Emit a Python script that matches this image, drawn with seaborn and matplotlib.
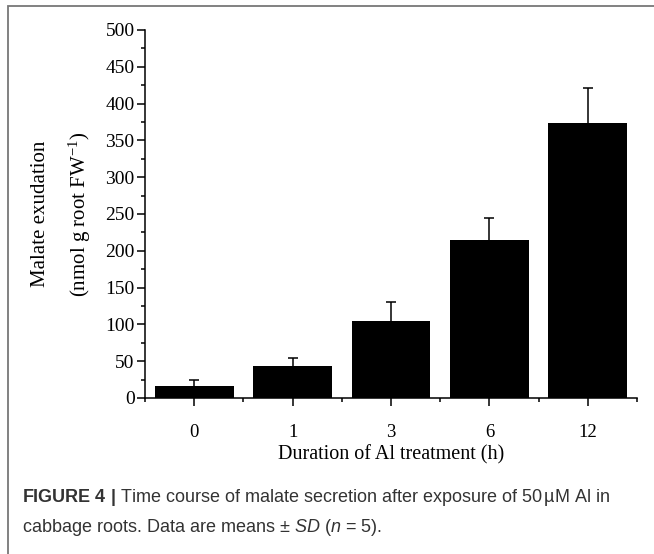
import numpy as np
import pandas as pd
import matplotlib
matplotlib.use("Agg")
import matplotlib.pyplot as plt
import seaborn as sns
from matplotlib.patches import Rectangle

# data
durations = ["0", "1", "3", "6", "12"]
malate = [16, 44, 105, 215, 374]
sd = [8, 11, 25, 29, 47]

sns.set_theme(style="ticks")
plt.rcParams['font.family'] = ['Liberation Serif', 'DejaVu Serif']
plt.rcParams['mathtext.fontset'] = 'custom'
plt.rcParams['mathtext.rm'] = 'Liberation Sans'
plt.rcParams['mathtext.it'] = 'Liberation Sans:italic'
plt.rcParams['mathtext.bf'] = 'Liberation Sans:bold'

df = pd.DataFrame({'Duration': durations, 'Malate': malate, 'SD': sd})

fig = plt.figure(figsize=(6.54, 5.54), dpi=100)
ax = fig.add_axes([145/654, 1 - 398/554, 492/654, 368/554])

sns.barplot(data=df, x='Duration', y='Malate', order=durations, color='black',
            errorbar=None, width=0.8, edgecolor='black', linewidth=0, ax=ax)
# upward-only error bars
_, caps, _ = ax.errorbar(np.arange(len(durations)), df['Malate'],
                         yerr=[np.zeros(len(sd)), df['SD']], fmt='none', ecolor='black',
                         elinewidth=1.1, capsize=3.5, capthick=1.1)
caps[0].set_visible(False)

ax.set_xlim(-0.5, 4.5)
ax.set_ylim(0, 500)
ax.set_yticks(np.arange(0, 501, 50))
ax.set_yticks(np.arange(0, 501, 25), minor=True)
ax.set_xticks([-0.5, 0.5, 1.5, 2.5, 3.5, 4.5], minor=True)
sns.despine(ax=ax)
for s in ['left', 'bottom']:
    ax.spines[s].set_linewidth(1.1)
    ax.spines[s].set_color('black')
ax.tick_params(axis='y', which='major', direction='out', length=5.5, width=1.1,
               labelsize=14, pad=2, colors='black')
ax.tick_params(axis='y', which='minor', direction='out', length=3, width=1.1, colors='black')
ax.tick_params(axis='x', which='major', direction='out', length=6, width=1.1,
               labelsize=13.5, pad=13, colors='black')
ax.tick_params(axis='x', which='minor', direction='out', length=3, width=1.1, colors='black')

ax.set_xlabel('Duration of Al treatment (h)', fontsize=14.5, labelpad=3, color='black')
ax.set_ylabel('Malate exudation\n(nmol g root FW$^{\\mathregular{-1}}$)', fontsize=15,
              labelpad=9, linespacing=1.8, color='black')

# frame around figure panel
fig.patches.append(Rectangle((8/654, -0.05), 1.1, 1 - 6/554 + 0.05,
                             transform=fig.transFigure, fill=False,
                             edgecolor='#777777', linewidth=1.3))

fig.text(22/654, 1 - 502/554,
         r'$\mathbf{FIGURE\ 4\ |}$ Time course of malate secretion after exposure of 50$\,$µM Al in',
         fontsize=13, family='Liberation Sans', color='#333333')
fig.text(22/654, 1 - 532/554,
         r'cabbage roots. Data are means $\pm$ $\mathit{SD}$ ($\mathit{n}$ = 5).',
         fontsize=13, family='Liberation Sans', color='#333333')

fig.savefig('out.png', dpi=100)
